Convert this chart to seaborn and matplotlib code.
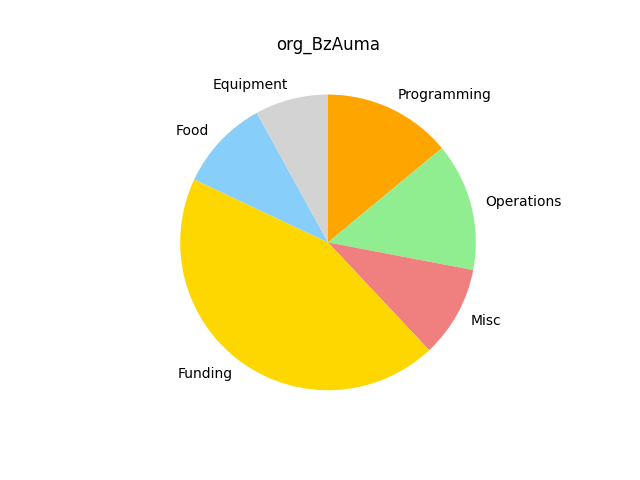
import matplotlib
matplotlib.use("Agg")
import matplotlib.pyplot as plt
import seaborn as sns

categories = ["Programming", "Operations", "Misc", "Funding", "Food", "Equipment"]
amounts = [14, 14, 10, 44, 10, 8]
slice_colors = ["orange", "lightgreen", "lightcoral", "gold", "lightskyblue", "lightgray"]

palette = sns.color_palette(slice_colors)

fig, ax = plt.subplots(figsize=(6.4, 4.8), dpi=100)
ax.pie(amounts, labels=categories, colors=palette, startangle=90, counterclock=False)
ax.set_title("org_BzAuma")

fig.savefig("out.png")
